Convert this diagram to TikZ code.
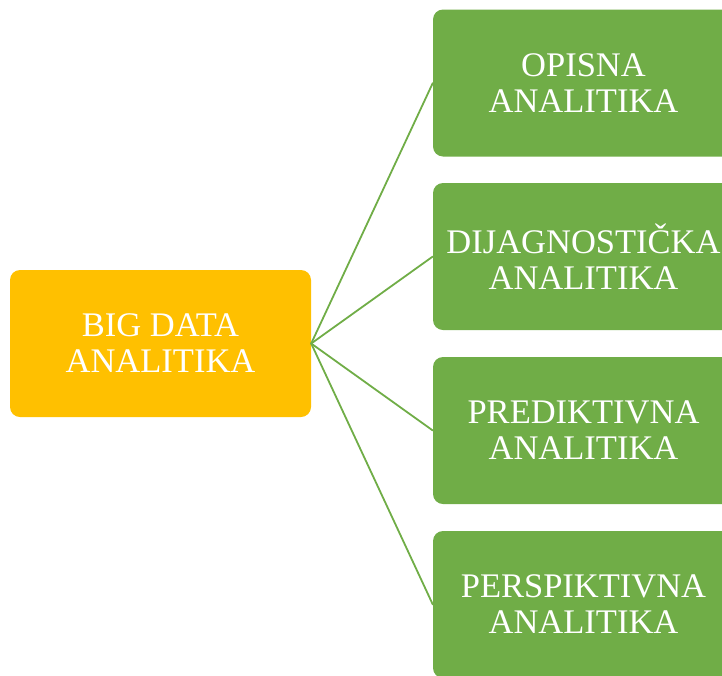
\documentclass[tikz,border=0pt]{standalone}
\usepackage{fontspec}
\setmainfont{Liberation Serif}
\definecolor{bdorange}{HTML}{FFC000}
\definecolor{bdgreen}{HTML}{70AD47}
\begin{document}
\begin{tikzpicture}[x=1pt,y=-1pt,line join=round,line cap=round,
  box/.style={rounded corners=10pt,minimum width=301pt,minimum height=147pt,inner sep=0pt,align=center,text=white,font=\fontsize{34.5}{36}\selectfont},
  link/.style={bdgreen,line width=1.8pt}]
\def \xmax{722};
\def \ymax{675};
\useasboundingbox (0,0) rectangle (\xmax,\ymax);
\clip (0,0) rectangle (\xmax,\ymax);
\node[box,fill=bdorange] (big) at (160.5,343.5) {BIG DATA\\ANALITIKA};
\foreach \y/\t/\n in {83/OPISNA/opis,256.5/DIJAGNOSTIČKA/dijag,430.5/PREDIKTIVNA/pred,604.5/PERSPIKTIVNA/persp}{
  \node[box,fill=bdgreen] (\n) at (583.5,\y) {\t\\ANALITIKA};
  \draw[link] (big.east) -- (\n.west);
}
\end{tikzpicture}
\end{document}
